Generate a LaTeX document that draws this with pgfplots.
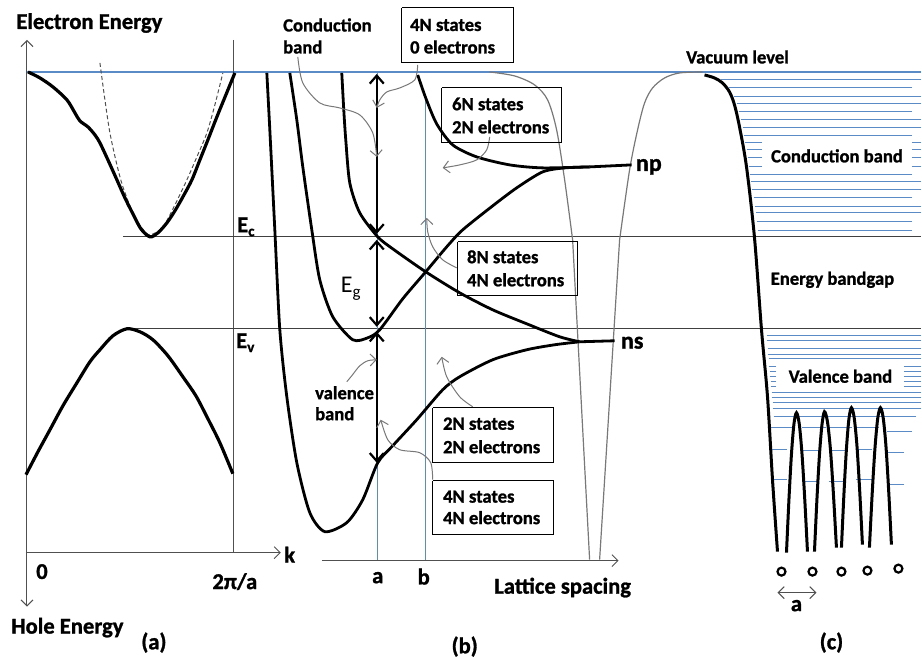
\documentclass[border=0pt]{standalone}
\usepackage{pgfplots}
\pgfplotsset{compat=1.18}
\usepackage{fontspec}
\setmainfont{Carlito}[BoldFeatures={FakeBold=1.2}]
\usetikzlibrary{arrows.meta}
\definecolor{vblue}{RGB}{91,139,199}
\definecolor{dgray}{RGB}{80,80,80}
\definecolor{lgray}{RGB}{120,120,120}
\begin{document}
\begin{tikzpicture}[
  lb/.style={font=\bfseries\fontsize{9.3}{11}\selectfont, inner sep=0pt},
  lbb/.style={font=\bfseries\fontsize{11.3}{13}\selectfont, inner sep=0pt},
  thinarr/.style={-{Straight Barb[length=3pt,width=6pt]}},
  ]
\begin{axis}[width=461pt,height=329pt,scale only axis,
  xmin=0,xmax=922,ymin=0,ymax=658,y dir=reverse,
  hide axis,clip=false,unbounded coords=jump]
\path (axis cs:0,0) rectangle (axis cs:922,658);

% ---------------- blue band lines (c) ----------------
\addplot[vblue, line width=0.5pt, mark=none] coordinates {
(721,80)(922,80)(800,nan)
(729,88)(913,88)(800,nan)
(734,97)(922,97)(800,nan)
(737,104)(922,104)(800,nan)
(739,112)(913,112)(800,nan)
(741,120)(922,120)(800,nan)
(743,128)(922,128)(800,nan)
(744,136)(913,136)(800,nan)
(745,143)(922,143)(800,nan)
(747,150)(922,150)(800,nan)
(748,158)(922,158)(800,nan)
(749,167)(922,167)(800,nan)
(750,175)(913,175)(800,nan)
(751,182)(922,182)(800,nan)
(752,190)(922,190)(800,nan)
(754,198)(913,198)(800,nan)
(755,207)(922,207)(800,nan)
(756,213)(922,213)(800,nan)
(757,222)(913,222)(800,nan)
(758,231)(913,231)
};
\addplot[vblue, line width=0.5pt, mark=none] coordinates {
(767,336)(922,336)(800,nan)
(767,341)(922,341)(800,nan)
(768,349)(922,349)(800,nan)
(768,355)(922,355)(800,nan)
(769,359)(922,359)(800,nan)
(769,367)(922,367)(800,nan)
(770,372)(922,372)(800,nan)
(770,377)(922,377)(800,nan)
(771,382)(922,382)(800,nan)
(771,387)(922,387)(800,nan)
(772,393)(922,393)(800,nan)
(772,398)(922,398)(800,nan)
(773,403)(922,403)(800,nan)
(773,409)(922,409)(800,nan)
(774,417)(917,417)
};
\addplot[vblue, line width=0.5pt, mark=none] coordinates {
(768,428)(793,428)(800,nan)(803,428)(827,428)(800,nan)(830,428)(853,428)(800,nan)(857,428)(880,428)(800,nan)(888,432)(913,432)(800,nan)
(772,450)(788,450)(800,nan)(803,451)(820,451)(800,nan)(830,451)(847,451)(800,nan)(857,450)(873,450)(800,nan)(888,453)(905,453)(800,nan)
(772,480)(788,480)(800,nan)(803,482)(820,482)(800,nan)(830,482)(847,482)(800,nan)(857,480)(873,480)(800,nan)(890,485)(905,485)
};
% vacuum level
\addplot[vblue, line width=0.6pt, mark=none] coordinates {(27,72)(922,72)};
% white label boxes over the band lines
\node[lb, fill=white, minimum width=75.5pt, minimum height=16pt] at (axis cs:837.5,156) {Conduction band};
\node[lb, fill=white, minimum width=64pt, minimum height=13.5pt] at (axis cs:841,376.5) {Valence band};

% ---------------- panel (a) ----------------
\addplot[dgray, mark=none, line width=0.5pt, {Straight Barb[length=3pt,width=6pt]}-{Straight Barb[length=3pt,width=6pt]}] coordinates {(27,40)(27,607)};
\addplot[dgray, mark=none, line width=0.5pt, thinarr] coordinates {(26,553)(281,553)};
\addplot[dgray, mark=none, line width=0.5pt] coordinates {(234,40)(234,553)};
\addplot[black!75, mark=none, line width=0.6pt] coordinates {(123,237)(922,237)};
\addplot[black!75, mark=none, line width=0.6pt] coordinates {(127,329)(922,329)};
\addplot[dgray, mark=none, line width=0.5pt, dash pattern=on 2pt off 1.3pt, smooth] coordinates {
(100,63)(105,100)(110,133)(117,165)(123,187)(133,213)(142,228)(150,235)(163,227)(175,205)(187,180)(197,157)(207,133)(215,105)(223,73)};
\addplot[black, mark=none, line width=1.6pt, smooth, tension=0.5] coordinates {
(28,72)(40,78)(53,87)(67,100)(75,113)(80,121)(88,127)(95,135)(100,143)(108,160)(117,180)(125,198)(133,214)(141,229)(150,237)(158,233)(167,223)(175,211)(183,197)(192,180)(200,160)(208,140)(217,117)(226,95)(235,73)};
\addplot[black, mark=none, line width=1.6pt, smooth] coordinates {
(26,475)(38,452)(50,430)(63,406)(77,383)(90,362)(100,350)(113,336)(127,329)(140,332)(153,340)(168,356)(183,377)(196,396)(207,417)(220,443)(233,474)};

% ---------------- panel (b) ----------------
\addplot[vblue, mark=none, line width=0.6pt] coordinates {(378,73)(378,561)};
\addplot[vblue, mark=none, line width=0.6pt] coordinates {(426,100)(426,561)};
\addplot[dgray, mark=none, line width=0.5pt, thinarr] coordinates {(322,561)(619,561)};
% gray potential curves
\addplot[lgray, mark=none, line width=0.6pt, smooth] coordinates {(490,72)(515,76)(535,85)(548,100)(557,130)(565,180)(573,240)};
\addplot[lgray, mark=none, line width=0.6pt] coordinates {(573,240)(590,560)};
\addplot[lgray, mark=none, line width=0.6pt, smooth] coordinates {(703,72)(680,73)(665,78)(653,88)(645,103)(638,130)(630,170)(620,240)};
\addplot[lgray, mark=none, line width=0.6pt] coordinates {(620,240)(600,560)};
% band curves
\addplot[black, mark=none, line width=1.4pt, smooth, tension=0.45] coordinates {
(267,73)(270,130)(275,230)(280,330)(287,397)(297,463)(310,513)(325,532)(347,523)(363,500)(378,463)(393,446)(417,420)(443,390)(460,377)(493,360)(527,350)(555,345)(580,342)};
\addplot[black, mark=none, line width=1.4pt] coordinates {(580,342)(615,341)};
\addplot[black, mark=none, line width=1.4pt, smooth, tension=0.45] coordinates {
(290,73)(297,120)(303,167)(312,230)(320,280)(333,317)(353,340)(368,338)(380,330)(403,299)(426,272)(447,247)(463,230)(493,206)(517,188)(543,172)(565,168)(590,167)};
\addplot[black, mark=none, line width=1.4pt] coordinates {(590,167)(632,165)};
\addplot[black, mark=none, line width=1.4pt, smooth, tension=0.45] coordinates {
(342,73)(344,110)(346,140)(350,183)(360,213)(378,237)(393,249)(426,272)(460,293)(493,310)(527,324)(560,337)(580,342)};
\addplot[black, mark=none, line width=1.4pt, smooth, tension=0.45] coordinates {
(418,75)(426,98)(437,124)(453,145)(477,157)(510,165)(543,168)(590,167)};
% double arrows
\addplot[black, mark=none, line width=1.1pt, {Straight Barb[length=4pt,width=7pt]}-{Straight Barb[length=4pt,width=7pt]}] coordinates {(377,74)(377,234)};
\addplot[black, mark=none, line width=1.1pt, {Straight Barb[length=4pt,width=7pt]}-{Straight Barb[length=4pt,width=7pt]}] coordinates {(377,240)(377,327)};
\addplot[black, mark=none, line width=1.1pt, {Straight Barb[length=4pt,width=7pt]}-{Straight Barb[length=4pt,width=7pt]}] coordinates {(377,332)(377,463)};
% annotation connectors
\addplot[lgray, mark=none, line width=0.5pt, smooth, thinarr] coordinates {(298,57)(303,83)(320,103)(340,108)(360,115)(373,133)(377,157)};
\addplot[lgray, mark=none, line width=0.5pt, smooth, thinarr] coordinates {(418,65)(415,80)(400,88)(387,92)(380,100)(377,108)};
\addplot[lgray, mark=none, line width=0.5pt, smooth, thinarr] coordinates {(490,137)(487,150)(477,160)(460,165)(443,168)};
\addplot[lgray, mark=none, line width=0.5pt, smooth, thinarr] coordinates {(457,268)(443,260)(433,247)(428,232)(427,218)};
\addplot[lgray, mark=none, line width=0.5pt, smooth, thinarr] coordinates {(347,382)(352,376)(360,366)(368,361)(377,360)};
\addplot[lgray, mark=none, line width=0.5pt, smooth, thinarr] coordinates {(473,407)(460,397)(447,377)(442,357)};
\addplot[lgray, mark=none, line width=0.5pt, smooth, thinarr] coordinates {(433,480)(431,463)(420,453)(400,450)(388,440)(381,420)};
% boxes
\addplot[black, mark=none, line width=0.5pt] coordinates {(402,8)(514,8)(514,63)(402,63)(402,8)};
\addplot[black, mark=none, line width=0.5pt] coordinates {(442,88)(562,88)(562,143)(442,143)(442,88)};
\addplot[black, mark=none, line width=0.5pt] coordinates {(458,242)(578,242)(578,296)(458,296)(458,242)};
\addplot[black, mark=none, line width=0.5pt] coordinates {(433,408)(554,408)(554,463)(433,463)(433,408)};
\addplot[black, mark=none, line width=0.5pt] coordinates {(433,481)(554,481)(554,535)(433,535)(433,481)};

% ---------------- panel (c) ----------------
\addplot[black, mark=none, line width=1.5pt, smooth, tension=0.5] coordinates {
(705,75)(715,78)(723,83)(730,92)(735,105)(740,127)(747,167)(755,238)(762,330)(768,397)(773,480)(778,552)};
\addplot[black, mark=none, line width=1.5pt, smooth] coordinates {(787,553)(789.5,499)(792,454)(794.5,424)(797,413)(799.75,424)(802.5,454)(805.25,499)(808,552)};
\addplot[black, mark=none, line width=1.5pt, smooth] coordinates {(815,552)(817.5,499)(820,455)(822.5,425)(825,412)(828,422)(831,450)(834,495)(837,548)};
\addplot[black, mark=none, line width=1.5pt, smooth] coordinates {(842,548)(844.5,494)(847,449)(849.5,419)(852,408)(854.75,418)(857.5,446)(860.25,491)(863,545)};
\addplot[black, mark=none, line width=1.5pt, smooth] coordinates {(870,548)(872.75,494)(875.5,449)(878.25,419)(881,408)(883.75,418)(886.5,446)(889.25,491)(892,545)};
\addplot[only marks, mark=o, mark size=2pt, black, line width=1.1pt, mark options={solid, line width=1.1pt, draw=black, fill=white}] coordinates {(782,572)(813,572)(842,572)(868,571)(899,569)};
\addplot[dgray, mark=none, line width=0.5pt, {Straight Barb[length=3pt,width=6pt]}-{Straight Barb[length=3pt,width=6pt]}] coordinates {(778,593)(817,593)};

% ---------------- text ----------------
\node[lbb, anchor=west] at (axis cs:16,23) {Electron Energy};
\node[lbb, anchor=west] at (axis cs:11,628) {Hole Energy};
\node[lbb] at (axis cs:154,643) {(a)};
\node[lbb] at (axis cs:465,647) {(b)};
\node[lbb] at (axis cs:832,643) {(c)};
\node[lbb] at (axis cs:42,572) {0};
\node[lbb] at (axis cs:235,582) {2π/a};
\node[lbb, anchor=west] at (axis cs:284,555) {k};
\node[lbb, anchor=west] at (axis cs:237,227) {E\raisebox{-2pt}{\fontsize{7.5}{8}\selectfont c}};
\node[lbb, anchor=west] at (axis cs:236,343) {E\raisebox{-2pt}{\fontsize{7.5}{8}\selectfont v}};
\node[font=\fontsize{12}{13}\selectfont, inner sep=0pt] at (axis cs:351,289) {E\raisebox{-2.5pt}{\fontsize{8.5}{9}\selectfont g}};
\node[lb, anchor=west] at (axis cs:283,25) {Conduction};
\node[lb, anchor=west] at (axis cs:283,47) {band};
\node[lb, anchor=west] at (axis cs:410,25) {4N states};
\node[lb, anchor=west] at (axis cs:410,47) {0 electrons};
\node[lb, anchor=west] at (axis cs:452,104) {6N states};
\node[lb, anchor=west] at (axis cs:452,127) {2N electrons};
\node[lb, anchor=west] at (axis cs:467,257) {8N states};
\node[lb, anchor=west] at (axis cs:467,280) {4N electrons};
\node[lb, anchor=west] at (axis cs:443,424) {2N states};
\node[lb, anchor=west] at (axis cs:443,447) {2N electrons};
\node[lb, anchor=west] at (axis cs:443,497) {4N states};
\node[lb, anchor=west] at (axis cs:443,518) {4N electrons};
\node[lb, anchor=west] at (axis cs:315,393) {valence};
\node[lb, anchor=west] at (axis cs:315,414) {band};
\node[lb] at (axis cs:738,57) {Vacuum level};
\node[lb] at (axis cs:833,280) {Energy bandgap};
\node[font=\bfseries\fontsize{12}{13}\selectfont, inner sep=0pt, anchor=west] at (axis cs:636,167) {np};
\node[font=\bfseries\fontsize{12}{13}\selectfont, inner sep=0pt, anchor=west] at (axis cs:621,343) {ns};
\node[lbb] at (axis cs:378,578) {a};
\node[lbb] at (axis cs:424,577) {b};
\node[lbb] at (axis cs:563,588) {Lattice spacing};
\node[lbb] at (axis cs:797,606) {a};
\end{axis}
\end{tikzpicture}
\end{document}
